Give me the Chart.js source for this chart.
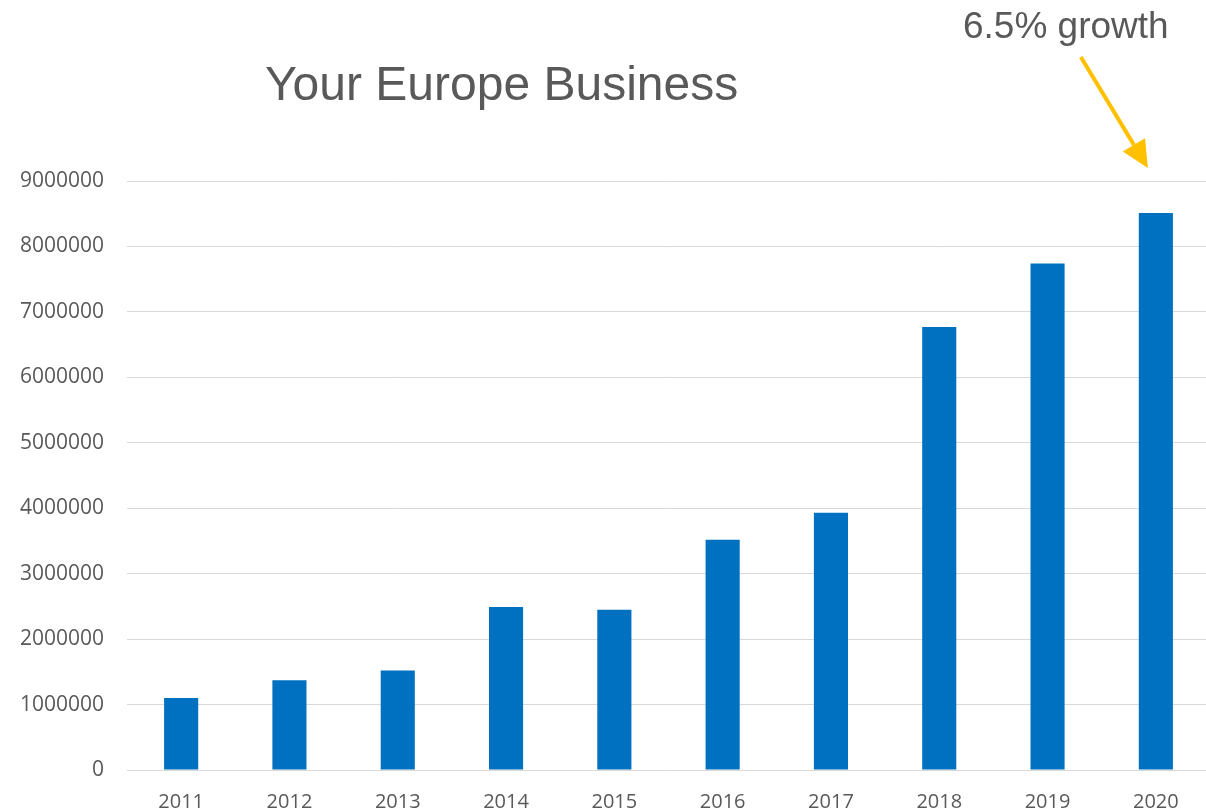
<!DOCTYPE html>
<html>
<head>
  <title>Your Europe Business</title>
  <script src="https://cdn.jsdelivr.net/npm/chart.js"></script>
  <style>
    html, body {
      margin: 0;
      padding: 0;
      background: #ffffff;
      overflow: hidden;
    }
    .wrap {
      position: relative;
      width: 1210px;
      height: 816px; /* a bit bigger than the window, the edges get cut like in the original */
    }
  </style>
</head>
<body>
  <div class="wrap">
    <canvas id="barras"></canvas>
  </div>

  <script>
    var anios = ['2011', '2012', '2013', '2014', '2015', '2016', '2017', '2018', '2019', '2020'];
    var visitas = [1100000, 1370000, 1520000, 2490000, 2450000, 3520000, 3930000, 6770000, 7740000, 8510000];
    var ticksY = [0, 1000000, 2000000, 3000000, 4000000, 5000000, 6000000, 7000000, 8000000, 9000000];
    var titulo = 'Your Europe Business';
    var nota = '6.5% growth';

    var gris = '#595959';

    // title + yellow arrow, drawn by hand like the pasted shapes of the original
    var extras = {
      id: 'extras',
      afterDraw: function (chart) {
        var c = chart.ctx;
        var x = chart.scales.x;
        c.save();
        c.fillStyle = gris;
        c.textBaseline = 'alphabetic';
        c.textAlign = 'left';
        c.font = '48px "Liberation Sans", Arial, sans-serif';
        c.fillText(titulo, 265, 100);
        c.font = '37px "Liberation Sans", Arial, sans-serif';
        c.fillText(nota, 963, 38);

        // arrow pointing at the last bar
        var tipX = x.getPixelForValue(anios.length - 1) - 8;
        var tipY = chart.chartArea.top - 13;
        var fromX = tipX - 67, fromY = 57;
        var ang = Math.atan2(tipY - fromY, tipX - fromX);
        var largo = 27, ancho = 13;
        var baseX = tipX - largo * Math.cos(ang), baseY = tipY - largo * Math.sin(ang);
        c.strokeStyle = '#FFC000';
        c.fillStyle = '#FFC000';
        c.lineWidth = 4;
        c.beginPath();
        c.moveTo(fromX, fromY);
        c.lineTo(baseX, baseY);
        c.stroke();
        c.beginPath();
        c.moveTo(tipX, tipY);
        c.lineTo(baseX + ancho * Math.sin(ang), baseY - ancho * Math.cos(ang));
        c.lineTo(baseX - ancho * Math.sin(ang), baseY + ancho * Math.cos(ang));
        c.closePath();
        c.fill();
        c.restore();
      }
    };

    var ctx = document.getElementById('barras').getContext('2d');
    var myChart = new Chart(ctx, {
      type: 'bar',
      data: {
        labels: anios,
        datasets: [{
          label: 'Your Europe Business',
          data: visitas,
          backgroundColor: '#0070C0',
          borderWidth: 0,
          categoryPercentage: 1,
          barPercentage: 0.315
        }]
      },
      options: {
        responsive: true,
        maintainAspectRatio: false,
        animation: false,
        layout: {
          padding: { top: 181, left: 0, right: 0, bottom: 0 }
        },
        scales: {
          y: {
            min: 0,
            max: 9000000,
            afterBuildTicks: function (scale) {
              scale.ticks = ticksY.map(function (v) { return { value: v }; });
            },
            afterFit: function (scale) { scale.width = 127; },
            border: { display: false },
            grid: { color: '#d9d9d9', lineWidth: 1, drawTicks: false },
            ticks: {
              padding: 23,
              color: gris,
              font: { family: '"Open Sans", sans-serif', size: 21 },
              callback: function (v) { return String(v); }
            }
          },
          x: {
            afterFit: function (scale) { scale.height = 46; },
            border: { display: false },
            grid: { display: false, drawTicks: false },
            ticks: {
              padding: 20,
              color: gris,
              maxRotation: 0,
              minRotation: 0,
              autoSkip: false,
              font: { family: '"Open Sans", sans-serif', size: 20 }
            }
          }
        },
        plugins: {
          legend: { display: false },
          title: { display: false },
          tooltip: { enabled: false }
        }
      },
      plugins: [extras]
    });
  </script>
</body>
</html>
